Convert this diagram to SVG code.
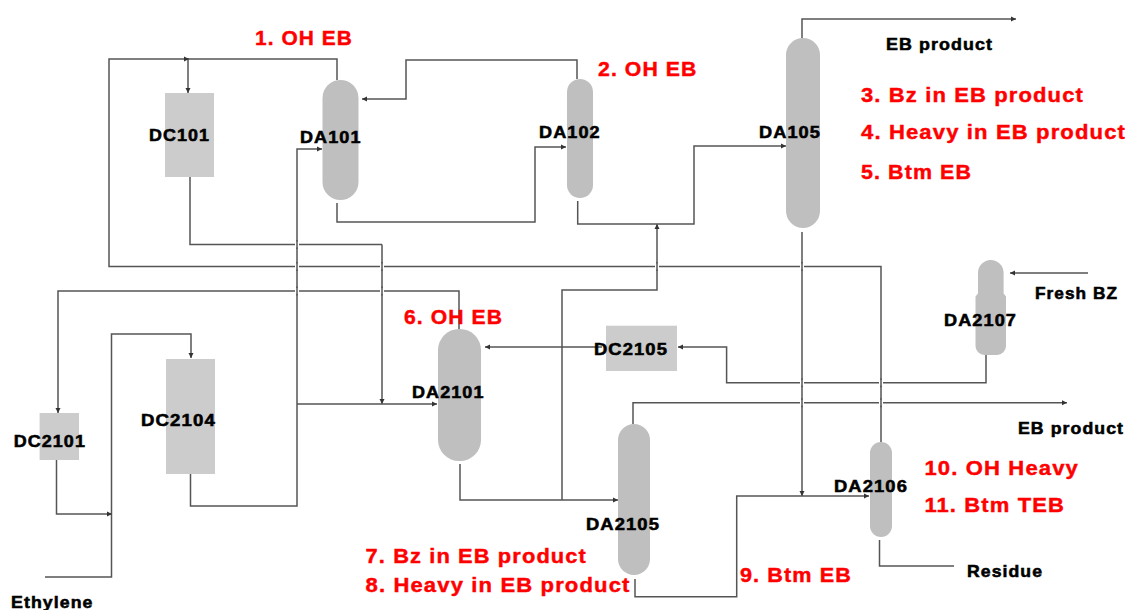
<svg xmlns="http://www.w3.org/2000/svg" width="1128" height="610" viewBox="0 0 1128 610">
<style>
text{font-family:"Liberation Sans",Arial,sans-serif;font-weight:700}
.k{font-size:16.5px;fill:#000;stroke:#000;stroke-width:.55;letter-spacing:1px}
.r{font-size:19.5px;fill:#ff0000;stroke:#ff0000;stroke-width:.4;letter-spacing:1px}
.c{fill:#bfbfbf}
.b{fill:#cccccc}
.l{fill:none;stroke:#555555;stroke-width:1.5}
.a{marker-end:url(#ah)}
.x{fill:none;stroke:#ffffff;stroke-width:4}
</style>
<defs>
<marker id="ah" markerUnits="userSpaceOnUse" markerWidth="6" markerHeight="6" refX="5" refY="3" orient="auto"><path d="M0 .5L5 3L0 5.500Z" fill="#333333"/></marker>
</defs>
<rect width="1128" height="610" fill="#ffffff"/>
<g id="connectors">
<path class="l" d="M337 80V59H109V266.500H881V442"/>
<path class="l a" d="M188 59V93"/>
<path class="l a" d="M184 59H189"/>
<path class="l" d="M190 177V244.500H382"/>
<path class="l a" d="M382 244.500V404"/>
<path class="l a" d="M577 79V60H406V99H362"/>
<path class="l a" d="M337 203V222H535V147H566"/>
<path class="l a" d="M190.500 474V506H297V149H322"/>
<path class="l a" d="M297 404H437"/>
<path class="l a" d="M459 329V291H58V413"/>
<path class="l a" d="M45 577H111.500V334H191V358"/>
<path class="l a" d="M56.500 460V514H112"/>
<path class="l a" d="M602 347H485"/>
<path class="l a" d="M986 355V382.700H726.600V347H678"/>
<path class="l a" d="M1088 273H1010"/>
<path class="l a" d="M802 38V19H1016"/>
<path class="l a" d="M802 232V496"/>
<path class="l a" d="M635 579V596.700H736.700V496H869"/>
<path class="l a" d="M633 424V402.700H1067"/>
<path class="l a" d="M460 464V500H618"/>
<path class="l a" d="M562 500V290H657V224"/>
<path class="l a" d="M577.700 201V224H694V146H786"/>
<path class="l" d="M879.500 540V566H954"/>
<path class="x" d="M297 241.500v6M297 263.500v6M297 288v6M382 263.500v6M382 288v6M657 263.500v6M802 263.500v6M802 379.700v6M802 399.700v6M881 379.700v6M881 399.700v6"/>
<path class="l" d="M297 240v9M297 262v9M297 286.500v9M382 262v9M382 286.500v9M657 262v9M802 262v9M802 378.200v9M802 398.200v9M881 378.200v9M881 398.200v9"/>
</g>
<g id="DC101"><rect class="b" x="165" y="93" width="49" height="84"/><text class="k" x="149" y="141.200" textLength="61" lengthAdjust="spacingAndGlyphs">DC101</text></g>
<g id="DA101"><rect class="c" x="322.500" y="80" width="36" height="120" rx="18"/><text class="k" x="300" y="142.500" textLength="61.500" lengthAdjust="spacingAndGlyphs">DA101</text></g>
<g id="DA102"><rect class="c" x="567" y="79" width="26" height="119" rx="13"/><text class="k" x="539" y="138.200" textLength="61.700" lengthAdjust="spacingAndGlyphs">DA102</text></g>
<g id="DA105"><rect class="c" x="786" y="38" width="34" height="190" rx="17"/><text class="k" x="759" y="138.200" textLength="62" lengthAdjust="spacingAndGlyphs">DA105</text></g>
<g id="DA2107"><path class="c" d="M978 273a12.800 13 0 0 1 25.600 0V293.500l2.400 3V346a9 9 0 0 1-9 9h-12.500a9 9 0 0 1-9-9V296.500l2.500-3Z"/><text class="k" x="944" y="325.500" textLength="73" lengthAdjust="spacingAndGlyphs">DA2107</text></g>
<g id="DC2105"><rect class="b" x="606" y="325.700" width="71" height="45.300"/><text class="k" x="594" y="354.500" textLength="74" lengthAdjust="spacingAndGlyphs">DC2105</text></g>
<g id="DA2101"><rect class="c" x="438" y="329" width="43" height="132" rx="21"/><text class="k" x="412" y="397.500" textLength="72.500" lengthAdjust="spacingAndGlyphs">DA2101</text></g>
<g id="DC2104"><rect class="b" x="166" y="359" width="49" height="115"/><text class="k" x="141" y="425.500" textLength="75" lengthAdjust="spacingAndGlyphs">DC2104</text></g>
<g id="DC2101"><rect class="b" x="39.600" y="413" width="39.400" height="47"/><text class="k" x="13.700" y="446.500" textLength="72.300" lengthAdjust="spacingAndGlyphs">DC2101</text></g>
<g id="DA2105"><rect class="c" x="618" y="424" width="32" height="151" rx="16"/><text class="k" x="586" y="529.500" textLength="74" lengthAdjust="spacingAndGlyphs">DA2105</text></g>
<g id="DA2106"><rect class="c" x="870" y="442" width="22" height="95" rx="11"/><text class="k" x="834" y="491.500" textLength="74" lengthAdjust="spacingAndGlyphs">DA2106</text></g>
<g id="labels">
<text class="k" x="886" y="49.500" textLength="107" lengthAdjust="spacingAndGlyphs">EB product</text>
<text class="k" x="1035" y="298.500" textLength="83" lengthAdjust="spacingAndGlyphs">Fresh BZ</text>
<text class="k" x="11" y="607.500" textLength="82.500" lengthAdjust="spacingAndGlyphs">Ethylene</text>
<text class="k" x="1018" y="433.500" textLength="106" lengthAdjust="spacingAndGlyphs">EB product</text>
<text class="k" x="967" y="576.500" textLength="76" lengthAdjust="spacingAndGlyphs">Residue</text>
<text class="r" x="255" y="44.700" textLength="98" lengthAdjust="spacingAndGlyphs">1. OH EB</text>
<text class="r" x="598" y="76" textLength="99.500" lengthAdjust="spacingAndGlyphs">2. OH EB</text>
<text class="r" x="861" y="101.500" textLength="223" lengthAdjust="spacingAndGlyphs">3. Bz in EB product</text>
<text class="r" x="861" y="138.700" textLength="265" lengthAdjust="spacingAndGlyphs">4. Heavy in EB product</text>
<text class="r" x="861" y="179" textLength="111" lengthAdjust="spacingAndGlyphs">5. Btm EB</text>
<text class="r" x="404" y="324" textLength="99" lengthAdjust="spacingAndGlyphs">6. OH EB</text>
<text class="r" x="365.500" y="563" textLength="221.500" lengthAdjust="spacingAndGlyphs">7. Bz in EB product</text>
<text class="r" x="365.500" y="592" textLength="265" lengthAdjust="spacingAndGlyphs">8. Heavy in EB product</text>
<text class="r" x="740" y="582" textLength="112" lengthAdjust="spacingAndGlyphs">9. Btm EB</text>
<text class="r" x="924.400" y="475" textLength="154.600" lengthAdjust="spacingAndGlyphs">10. OH Heavy</text>
<text class="r" x="924.400" y="512" textLength="140.600" lengthAdjust="spacingAndGlyphs">11. Btm TEB</text>
</g>
</svg>
